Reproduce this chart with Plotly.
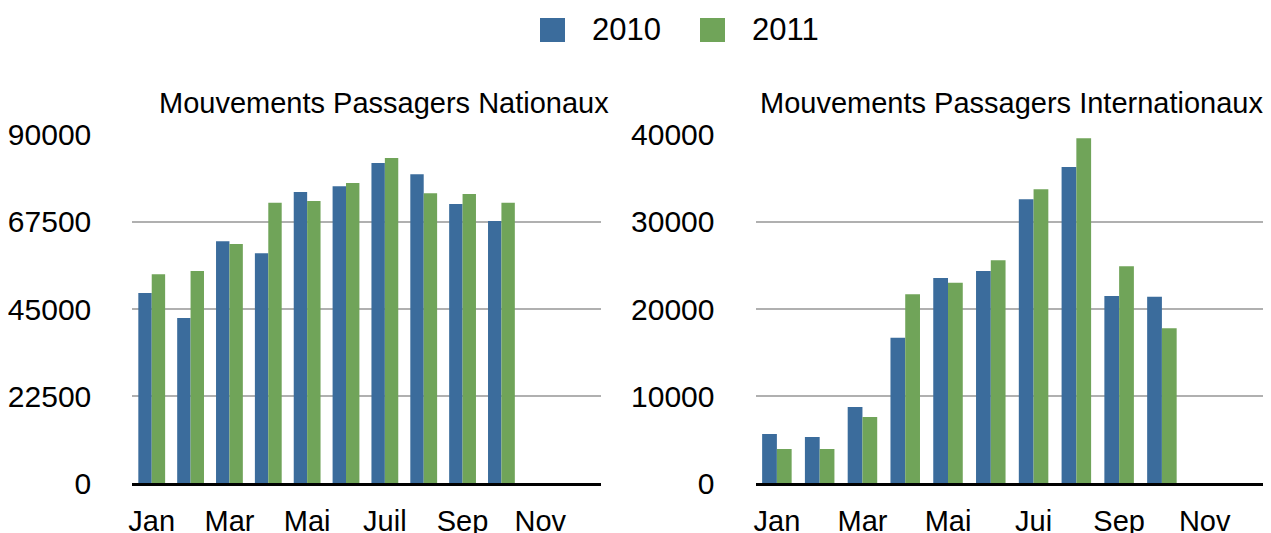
import plotly.graph_objects as go

months = ["Jan", "Fév", "Mar", "Avr", "Mai", "Juin", "Juil", "Aoû", "Sep", "Oct", "Nov", "Déc"]
series_names = ["2010", "2011"]

nat_2010 = [49100, 42700, 62500, 59400, 75200, 76700, 82700, 79800, 72100, 67700, None, None]
nat_2011 = [54000, 54800, 61800, 72400, 72900, 77500, 84000, 74900, 74700, 72400, None, None]

int_2010 = [5650, 5300, 8750, 16700, 23550, 24350, 32600, 36300, 21500, 21400, None, None]
int_2011 = [3950, 3950, 7600, 21700, 23000, 25600, 33750, 39600, 24900, 17800, None, None]

left_tickvals = ["Jan", "Mar", "Mai", "Juil", "Sep", "Nov"]
left_ticktext = ["Jan", "Mar", "Mai", "Juil", "Sep", "Nov"]
right_ticktext = ["Jan", "Mar", "Mai", "Jui", "Sep", "Nov"]

left_yticks = [0, 22500, 45000, 67500, 90000]
right_yticks = [0, 10000, 20000, 30000, 40000]

titles = ["Mouvements Passagers Nationaux", "Mouvements Passagers Internationaux"]

colors = ["#3B6C9C", "#70A459"]
FONT = "Liberation Sans, Arial, Helvetica, sans-serif"

# page has an 8px body margin; the figure starts at (8, 8)
OFF = 8
W, H = 1271 - OFF, 533 - OFF


def px(x):
    return (x - OFF) / W


def py(y):
    return 1 - (y - OFF) / H


fig = go.Figure()

for vals, name, col in [(nat_2010, series_names[0], colors[0]), (nat_2011, series_names[1], colors[1])]:
    fig.add_trace(go.Bar(x=months, y=vals, name=name, marker=dict(color=col, line=dict(width=0)),
                         xaxis="x", yaxis="y", showlegend=False))
for vals, name, col in [(int_2010, series_names[0], colors[0]), (int_2011, series_names[1], colors[1])]:
    fig.add_trace(go.Bar(x=months, y=vals, name=name, marker=dict(color=col, line=dict(width=0)),
                         xaxis="x2", yaxis="y2", showlegend=False))

common_x = dict(type="category", categoryorder="array", categoryarray=months,
                range=[-0.5, 11.55], showgrid=False, zeroline=False,
                showline=True, linecolor="black", linewidth=3, ticks="",
                tickfont=dict(family=FONT, size=29, color="black"),
                ticklabelstandoff=10, automargin=False, fixedrange=True)
common_y = dict(showgrid=True, gridcolor="#B0B0B0", gridwidth=2, zeroline=False,
                showline=False, ticks="", tickfont=dict(family=FONT, size=30, color="black"),
                ticklabelstandoff=40, automargin=False, fixedrange=True)

fig.update_layout(
    width=W, height=H,
    margin=dict(l=0, r=0, t=0, b=0),
    paper_bgcolor="white", plot_bgcolor="white",
    barmode="group", bargap=0.31, bargroupgap=0,
    showlegend=False,
    xaxis=dict(domain=[px(132.3), px(600.5)], anchor="y",
               tickvals=left_tickvals, ticktext=left_ticktext, **common_x),
    yaxis=dict(domain=[py(483.3), py(134.7)], anchor="x", range=[0, 90000],
               tickvals=left_yticks, ticktext=[str(v) for v in left_yticks], **common_y),
    xaxis2=dict(domain=[px(755.5), 1.0], anchor="y2",
                tickvals=left_tickvals, ticktext=right_ticktext, **common_x),
    yaxis2=dict(domain=[py(483.3), py(134.7)], anchor="x2", range=[0, 40000],
                tickvals=right_yticks, ticktext=[str(v) for v in right_yticks], **common_y),
)

# Subplot titles
fig.add_annotation(text=titles[0], xref="paper", yref="paper", x=px(384), y=py(103),
                   xanchor="center", yanchor="middle", showarrow=False,
                   font=dict(family=FONT, size=29, color="black"))
fig.add_annotation(text=titles[1], xref="paper", yref="paper", x=px(1011), y=py(103),
                   xanchor="center", yanchor="middle", showarrow=False,
                   font=dict(family=FONT, size=29, color="black"))

# Legend (drawn manually to match the large square swatches)
legend_items = [(series_names[0], colors[0], 540, 590), (series_names[1], colors[1], 700, 750)]
for name, col, sx, tx in legend_items:
    fig.add_shape(type="rect", xref="paper", yref="paper",
                  x0=px(sx), x1=px(sx + 25), y0=py(42), y1=py(18),
                  fillcolor=col, line=dict(width=0))
    fig.add_annotation(text=name, xref="paper", yref="paper", x=px(tx), y=py(30),
                       xanchor="left", yanchor="middle", showarrow=False,
                       font=dict(family=FONT, size=31, color="black"))

fig.write_html("out.html")
